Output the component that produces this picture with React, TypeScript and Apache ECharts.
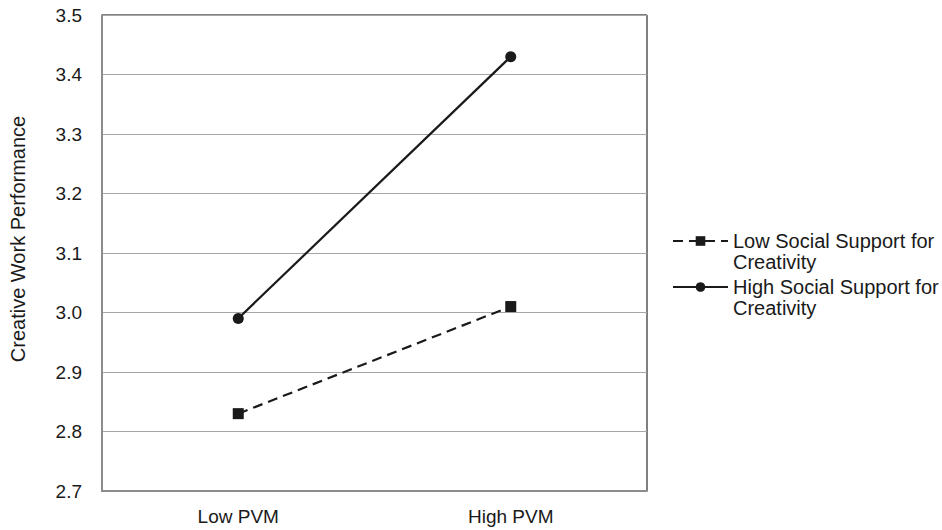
import React, { useEffect, useRef } from "react";
import * as echarts from "echarts";

const categories = ["Low PVM", "High PVM"];
const lowSupport = [2.83, 3.01];
const highSupport = [2.99, 3.43];
const seriesNames = ["Low Social Support for\nCreativity", "High Social Support for\nCreativity"];
const yTicks = { min: 2.7, max: 3.5, interval: 0.1 };
const yAxisTitle = "Creative Work Performance";

export default function App() {
  const ref = useRef<HTMLDivElement>(null);
  useEffect(() => {
    if (!ref.current) return;
    const chart = echarts.init(ref.current, undefined, { renderer: "svg" });
    const font = "'Liberation Sans', Arial, sans-serif";
    const fs = 19;
    const lh = 21;
    chart.setOption({
      animation: false,
      backgroundColor: "#ffffff",
      grid: {
        left: 98,
        right: 295,
        top: 15,
        bottom: 39,
        show: true,
        borderColor: "#000000",
        borderWidth: 1,
        backgroundColor: "transparent",
      },
      legend: {
        orient: "vertical",
        left: 672,
        top: 241 - 1.5 * lh,
        padding: 0,
        itemWidth: 55,
        itemHeight: 12,
        itemGap: 46 - 3 * lh,
        formatter: (name: string) => "\n" + name,
        textStyle: {
          fontFamily: font,
          fontSize: 20,
          color: "#1a1a1a",
          lineHeight: lh,
        },
        data: [seriesNames[0], seriesNames[1]],
      },
      xAxis: {
        type: "category",
        data: categories,
        boundaryGap: true,
        axisLine: { show: true, lineStyle: { color: "#8c8c8c", width: 2 } },
        axisTick: { show: false },
        axisLabel: { fontFamily: font, fontSize: fs, color: "#1a1a1a", margin: 16 },
      },
      yAxis: {
        type: "value",
        min: yTicks.min,
        max: yTicks.max,
        interval: yTicks.interval,
        name: yAxisTitle,
        nameLocation: "middle",
        nameRotate: 90,
        nameGap: 74,
        nameTextStyle: {
          fontFamily: font,
          fontSize: 20,
          color: "#1a1a1a",
          padding: [0, 0, 0, 28],
        },
        axisLine: { show: true, lineStyle: { color: "#8c8c8c", width: 2 } },
        axisTick: { show: false },
        axisLabel: {
          fontFamily: font,
          fontSize: fs,
          color: "#1a1a1a",
          margin: 20,
          formatter: (v: number) => v.toFixed(1),
        },
        splitLine: { show: true, lineStyle: { color: "#a6a6a6", width: 1 } },
      },
      series: [
        {
          name: seriesNames[0],
          type: "line",
          data: lowSupport,
          symbol: "rect",
          symbolSize: 11,
          itemStyle: { color: "#1a1a1a" },
          lineStyle: { color: "#1a1a1a", width: 2.2, type: [10, 6] },
        },
        {
          name: seriesNames[1],
          type: "line",
          data: highSupport,
          symbol: "circle",
          symbolSize: 11,
          itemStyle: { color: "#1a1a1a" },
          lineStyle: { color: "#1a1a1a", width: 2.2 },
        },
      ],
    });
    return () => chart.dispose();
  }, []);
  return (
    <div
      ref={ref}
      style={{ position: "fixed", left: 0, top: 0, width: 942, height: 530 }}
    />
  );
}
